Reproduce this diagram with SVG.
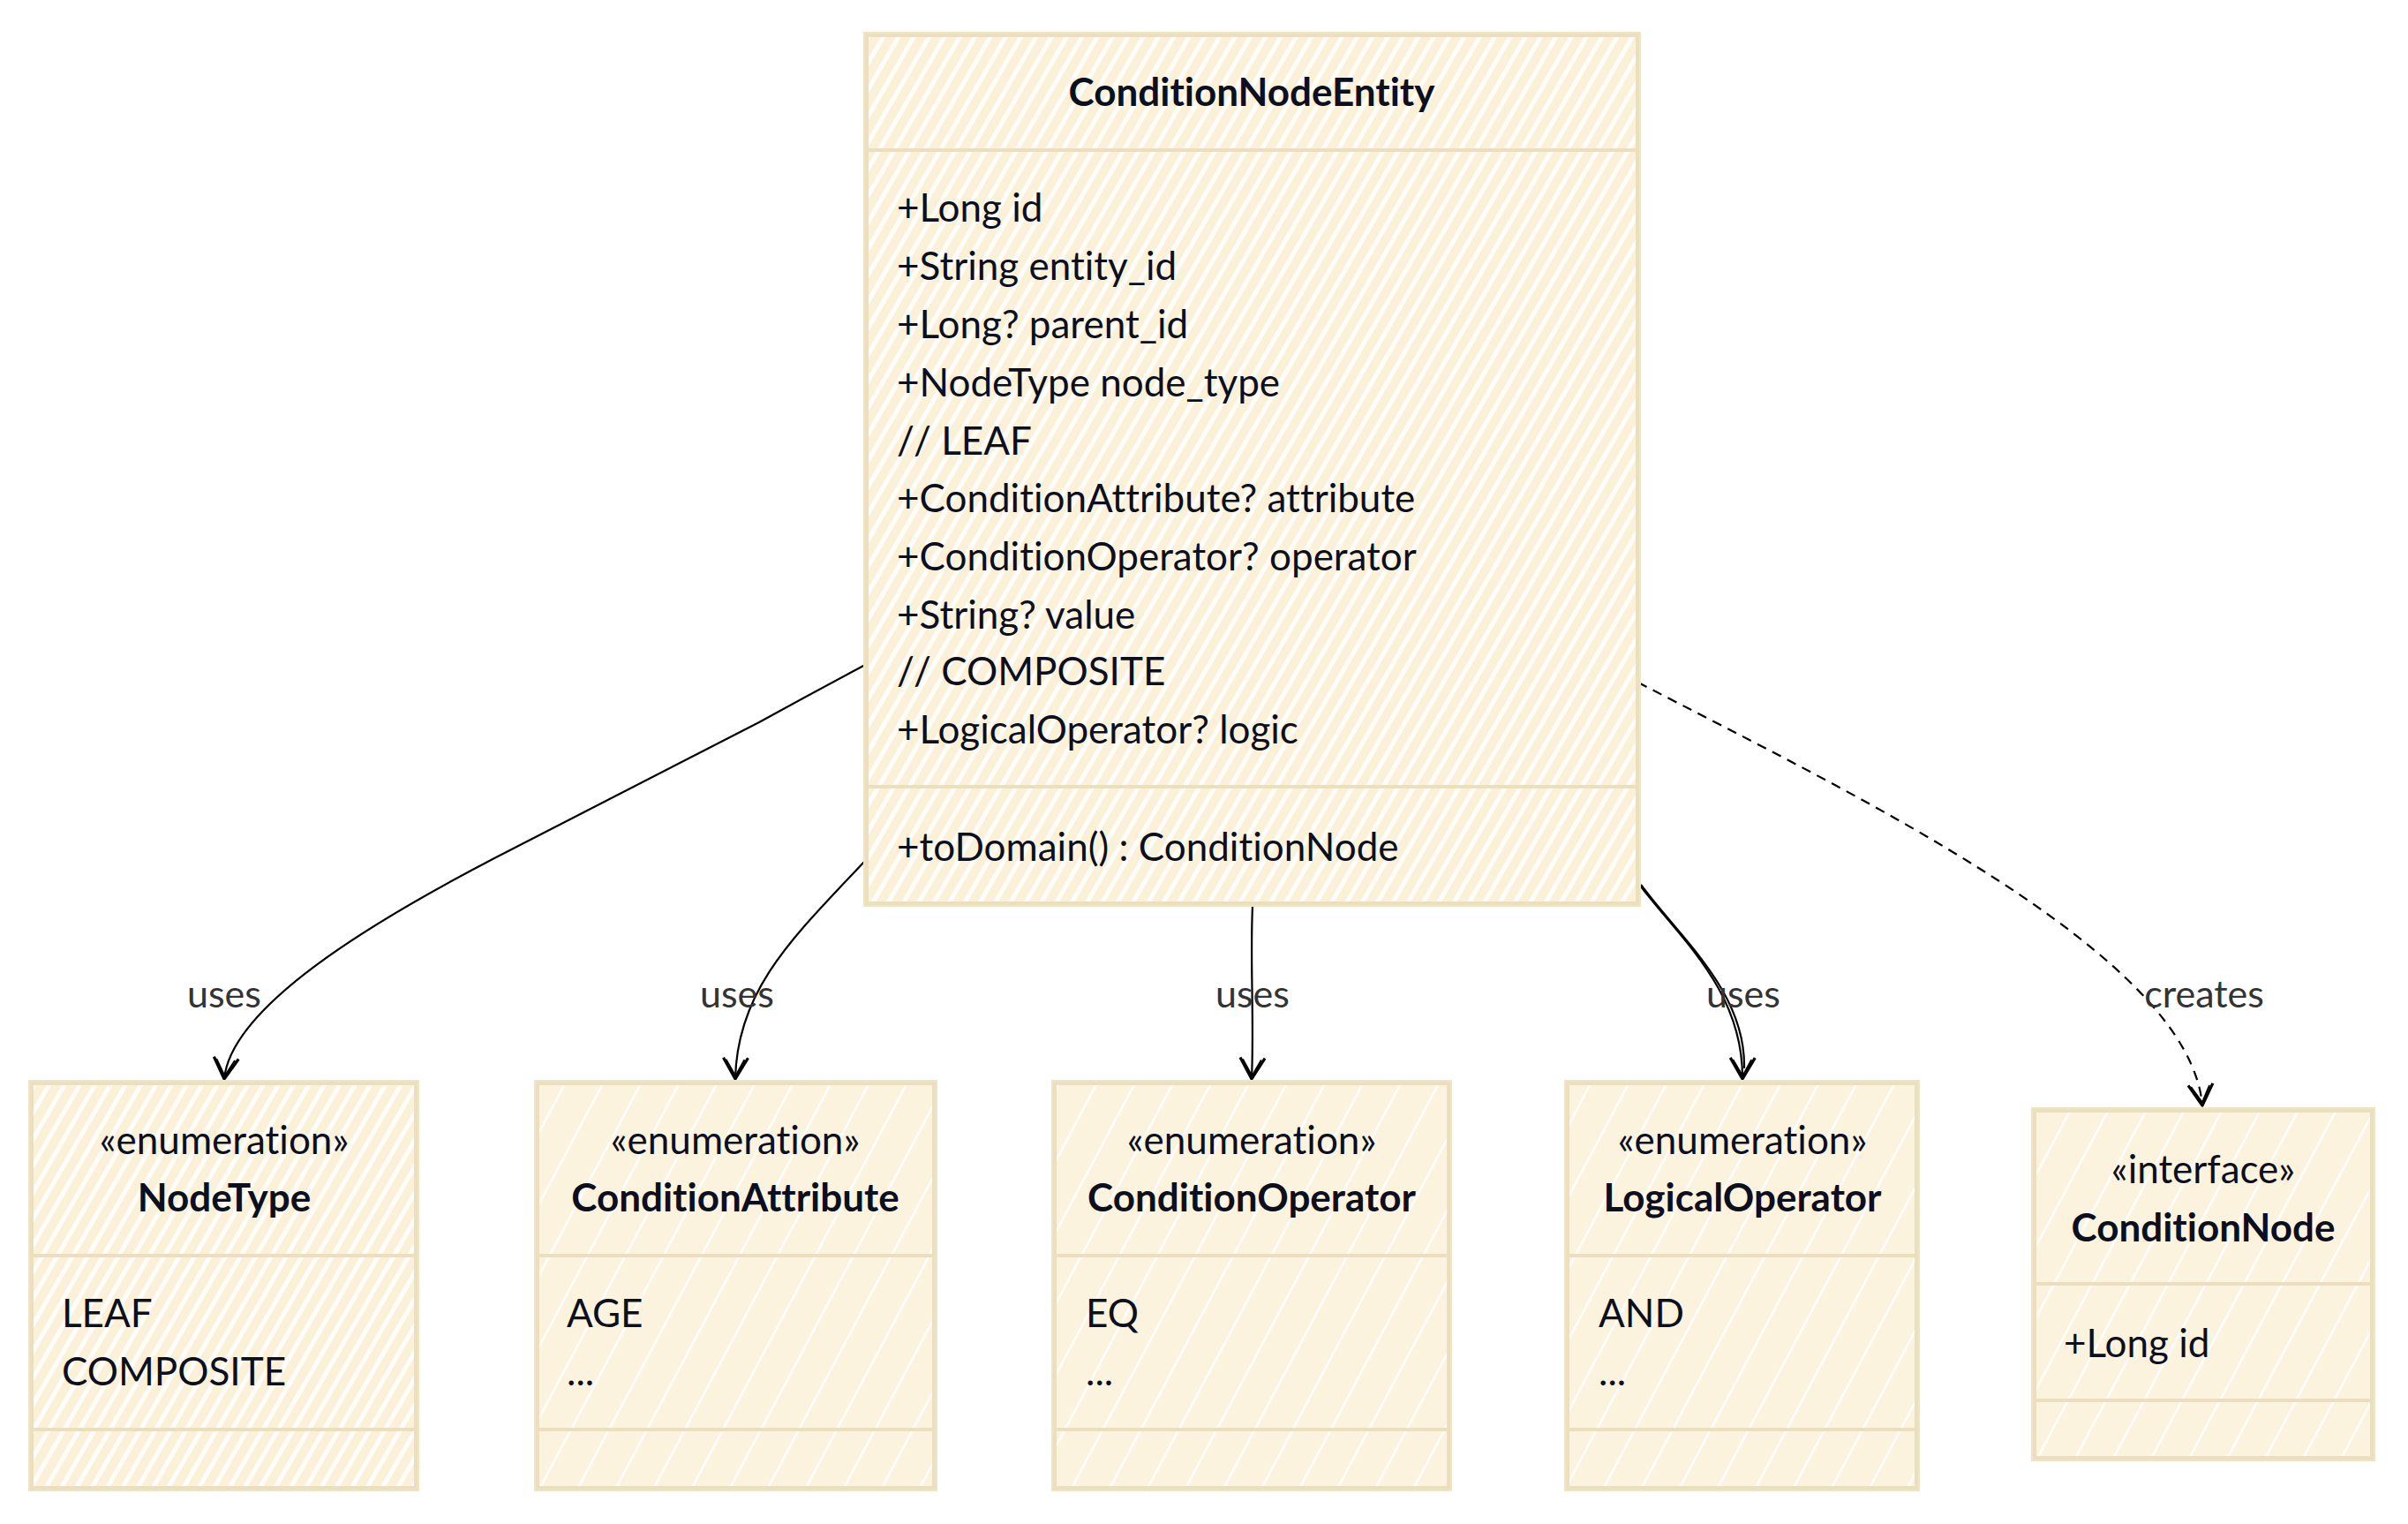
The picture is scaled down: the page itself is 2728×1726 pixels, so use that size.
<svg xmlns="http://www.w3.org/2000/svg" width="2728" height="1726" viewBox="0 0 2728 1726">
<defs>
<pattern id="hatchDense" patternUnits="userSpaceOnUse" width="15" height="15" patternTransform="rotate(30)">
<rect width="15" height="15" fill="#fbf1d9"/>
<rect x="0" y="0" width="5" height="15" fill="#ffffff" opacity="0.85"/>
</pattern>
<pattern id="hatchSparse" patternUnits="userSpaceOnUse" width="38" height="38" patternTransform="rotate(28)">
<rect width="38" height="38" fill="#fcf3df"/>
<rect x="0" y="0" width="2.5" height="38" fill="#ffffff" opacity="0.9"/>
</pattern>
<marker id="arrow" markerUnits="userSpaceOnUse" viewBox="-2 -18 30 36" markerWidth="30" markerHeight="36" refX="25" refY="0" orient="auto">
<path d="M1,-14 L25,0 L1,14" fill="none" stroke="#000" stroke-width="3.2" stroke-linejoin="round"/>
<path d="M3,-10 L24,1 M3,11 L23,-1" fill="none" stroke="#000" stroke-width="2"/>
</marker>
</defs>
<style>
.box{stroke:#ecdfbe;stroke-width:4;}
.sk{fill:none;stroke:#efe4c6;stroke-width:2;}
.div{stroke:#ecdfbe;stroke-width:4;}
text{font-variant-ligatures:none;font-feature-settings:"liga" 0,"clig" 0;}
.t{font-family:Lato,"Liberation Sans",sans-serif;font-size:44px;fill:#0c0f1e;}
.b{font-weight:bold;}
.m{text-anchor:middle;}
.lbl{font-family:Lato,"Liberation Sans",sans-serif;font-size:43px;fill:#333333;text-anchor:middle;}
.e{fill:none;stroke:#000;stroke-width:2.2;}
.dash{stroke-dasharray:11 8;}
</style>
<rect width="2728" height="1726" fill="#ffffff"/>

<g id="connectors">
<path class="e" d="M982,752 Q920,785 860,818 L560,972 C420,1045 262,1140 254,1222" marker-end="url(#arrow)"/>
<path class="e" d="M980,975 C900,1060 835,1120 833,1222" marker-end="url(#arrow)"/>
<path class="e" d="M1419,1026 C1416,1090 1421,1150 1418,1222" marker-end="url(#arrow)"/>
<path class="e" d="M1856,1000 C1900,1060 1975,1120 1974,1222" marker-end="url(#arrow)"/>
<path class="e" d="M1859,1002 C1905,1064 1978,1124 1976,1210"/>
<path class="e dash" d="M1856,773 C2100,900 2480,1080 2495,1252" marker-end="url(#arrow)"/>
<text class="lbl" x="254" y="1141">uses</text>
<text class="lbl" x="835" y="1141">uses</text>
<text class="lbl" x="1419" y="1141">uses</text>
<text class="lbl" x="1975" y="1141">uses</text>
<text class="lbl" x="2497" y="1141">creates</text>
</g>

<g id="ConditionNodeEntity">
<rect class="box" x="982" y="40" width="873" height="983" fill="url(#hatchDense)"/>
<rect class="sk" x="979" y="37" width="879" height="989"/>
<line class="div" x1="982" y1="170" x2="1855" y2="170"/>
<line class="div" x1="982" y1="891" x2="1855" y2="891"/>
<text class="t b m" x="1418" y="120">ConditionNodeEntity</text>
<text class="t" x="1016" y="251">+Long id</text>
<text class="t" x="1016" y="317">+String entity_id</text>
<text class="t" x="1016" y="383">+Long? parent_id</text>
<text class="t" x="1016" y="449">+NodeType node_type</text>
<text class="t" x="1016" y="515">/<tspan dx="9">/ LEAF</tspan></text>
<text class="t" x="1016" y="580">+ConditionAttribute? attribute</text>
<text class="t" x="1016" y="646">+ConditionOperator? operator</text>
<text class="t" x="1016" y="712">+String? value</text>
<text class="t" x="1016" y="776">/<tspan dx="9">/ COMPOSITE</tspan></text>
<text class="t" x="1016" y="842">+LogicalOperator? logic</text>
<text class="t" x="1016" y="975">+toDomain() : ConditionNode</text>
</g>

<g id="NodeType">
<rect class="box" x="36" y="1227" width="435" height="458" fill="url(#hatchDense)"/>
<rect class="sk" x="33" y="1224" width="441" height="464"/>
<line class="div" x1="36" y1="1422" x2="471" y2="1422"/>
<line class="div" x1="36" y1="1619" x2="471" y2="1619"/>
<text class="t m" x="254" y="1307">«enumeration»</text>
<text class="t b m" x="254" y="1372">NodeType</text>
<text class="t" x="70" y="1503">LEAF</text>
<text class="t" x="70" y="1569">COMPOSITE</text>
</g>

<g id="ConditionAttribute">
<rect class="box" x="609" y="1227" width="449" height="458" fill="url(#hatchSparse)"/>
<rect class="sk" x="606" y="1224" width="455" height="464"/>
<line class="div" x1="609" y1="1422" x2="1058" y2="1422"/>
<line class="div" x1="609" y1="1619" x2="1058" y2="1619"/>
<text class="t m" x="833" y="1307">«enumeration»</text>
<text class="t b m" x="833" y="1372">ConditionAttribute</text>
<text class="t" x="642" y="1503">AGE</text>
<text class="t" x="642" y="1569">...</text>
</g>

<g id="ConditionOperator">
<rect class="box" x="1195" y="1227" width="446" height="458" fill="url(#hatchSparse)"/>
<rect class="sk" x="1192" y="1224" width="452" height="464"/>
<line class="div" x1="1195" y1="1422" x2="1641" y2="1422"/>
<line class="div" x1="1195" y1="1619" x2="1641" y2="1619"/>
<text class="t m" x="1418" y="1307">«enumeration»</text>
<text class="t b m" x="1418" y="1372">ConditionOperator</text>
<text class="t" x="1230" y="1503">EQ</text>
<text class="t" x="1230" y="1569">...</text>
</g>

<g id="LogicalOperator">
<rect class="box" x="1776" y="1227" width="395" height="458" fill="url(#hatchSparse)"/>
<rect class="sk" x="1773" y="1224" width="401" height="464"/>
<line class="div" x1="1776" y1="1422" x2="2171" y2="1422"/>
<line class="div" x1="1776" y1="1619" x2="2171" y2="1619"/>
<text class="t m" x="1974" y="1307">«enumeration»</text>
<text class="t b m" x="1974" y="1372">LogicalOperator</text>
<text class="t" x="1811" y="1503">AND</text>
<text class="t" x="1811" y="1569">...</text>
</g>

<g id="ConditionNode">
<rect class="box" x="2305" y="1258" width="382" height="393" fill="url(#hatchSparse)"/>
<rect class="sk" x="2302" y="1255" width="388" height="399"/>
<line class="div" x1="2305" y1="1454" x2="2687" y2="1454"/>
<line class="div" x1="2305" y1="1586" x2="2687" y2="1586"/>
<text class="t m" x="2496" y="1340">«interface»</text>
<text class="t b m" x="2496" y="1406">ConditionNode</text>
<text class="t" x="2338" y="1537">+Long id</text>
</g>
</svg>
